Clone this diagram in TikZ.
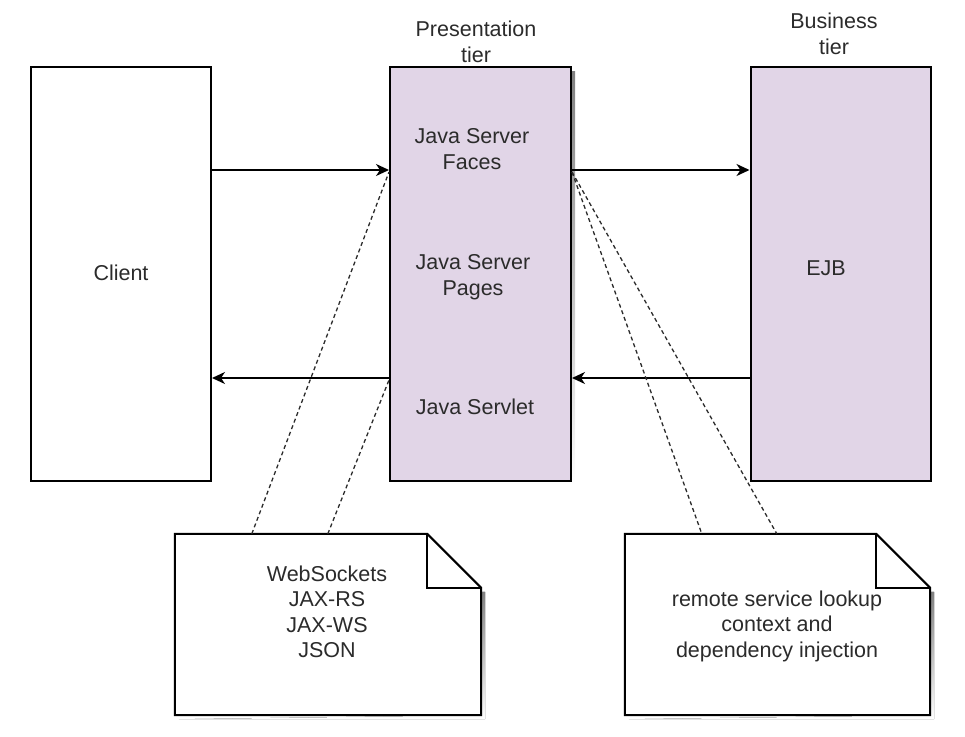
\documentclass[tikz,border=0pt]{standalone}
\usepackage{fontspec}
\setmainfont{Liberation Sans}
\usetikzlibrary{arrows.meta,calc}
\definecolor{lav}{HTML}{E1D5E7}
\definecolor{txt}{HTML}{2B2B2B}
\definecolor{shade}{HTML}{BDBDBD}
\tikzset{
  tierbox/.style={draw=black,line width=2pt,minimum width=180pt,minimum height=414pt,inner sep=0pt},
  lbl/.style={text=txt,font=\fontsize{21.5}{25.5}\selectfont,align=center,inner sep=0pt},
  arr/.style={line width=1.8pt,-{Stealth[length=13pt,width=12pt,inset=4pt]}},
  dashlink/.style={line width=1.3pt,dash pattern=on 4pt off 3pt,txt},
  notebox/.style={minimum width=306pt,minimum height=181pt,inner sep=0pt},
  noteline/.style={draw=black,line width=2pt,fill=white,line join=miter},
}
\begin{document}
\begin{tikzpicture}[x=1pt,y=-1pt]
\useasboundingbox (0,0) rectangle (965,736);
% shadows
\fill[shade] (394,71) rectangle (575,485);
% boxes
\node[tierbox,fill=white] (client) at (121,274) {};
\node[tierbox,fill=lav,minimum width=181pt] (pres) at (480.5,274) {};
\node[tierbox,fill=lav] (bus) at (840.5,274) {};
% labels in boxes
\node[lbl] (clienttxt) at (121,273) {Client};
\node[lbl] (jsf) at (472,149) {Java Server\\Faces};
\node[lbl] (jsp) at (473,277) {Java Server\\Pages};
\node[lbl] (servlet) at (475,407) {Java Servlet};
\node[lbl] (ejb) at (826,268) {EJB};
\node[lbl] (prestier) at (476,42) {Presentation\\tier};
\node[lbl] (bustier) at (834,34) {Business\\tier};
% arrows
\coordinate (ytop) at (0,170);
\coordinate (ybot) at (0,378);
\draw[arr] (client.east |- ytop) -- (pres.west |- ytop);
\draw[arr] (pres.east |- ytop) -- (bus.west |- ytop);
\draw[arr] (pres.west |- ybot) -- (client.east |- ybot);
\draw[arr] (bus.west |- ybot) -- (pres.east |- ybot);
% notes
\node[notebox] (note1) at (328,624.5) {};
\node[notebox,minimum width=305pt] (note2) at (777.5,624.5) {};
\foreach \n in {note1,note2}{
  \fill[shade] ([shift={(4pt,-4pt)}]\n.south west) -- ([shift={(4pt,-4pt)}]\n.south east)
     -- ([shift={(4pt,-58pt)}]\n.north east) -- ([shift={(0pt,-58pt)}]\n.north east)
     -- (\n.south east) -- cycle;
  \draw[noteline] (\n.south west) -- (\n.north west) -- ([xshift=-54pt]\n.north east)
     -- ([yshift=-54pt]\n.north east) -- (\n.south east) -- cycle;
  \draw[line width=2pt] ([xshift=-54pt]\n.north east) -- ([shift={(-54pt,-54pt)}]\n.north east)
     -- ([yshift=-54pt]\n.north east);
  \draw[line width=0.9pt] ([xshift=-54pt]\n.north east) -- ([yshift=-54pt]\n.north east);
}
\node[lbl] (note1txt) at (327,612) {WebSockets\\JAX-RS\\JAX-WS\\JSON};
\node[lbl] (note2txt) at (777,626) {remote service lookup\\context and\\dependency injection};
% dashed links
\draw[dashlink] ([xshift=77pt]note1.north west) -- (pres.west |- 0,172);
\draw[dashlink] ([xshift=153pt]note1.north west) -- (pres.west |- 0,380);
\draw[dashlink] (pres.east |- 0,172) -- ([xshift=77pt]note2.north west);
\draw[dashlink] (pres.east |- 0,172) -- ([xshift=152pt]note2.north west);
\end{tikzpicture}
\end{document}
